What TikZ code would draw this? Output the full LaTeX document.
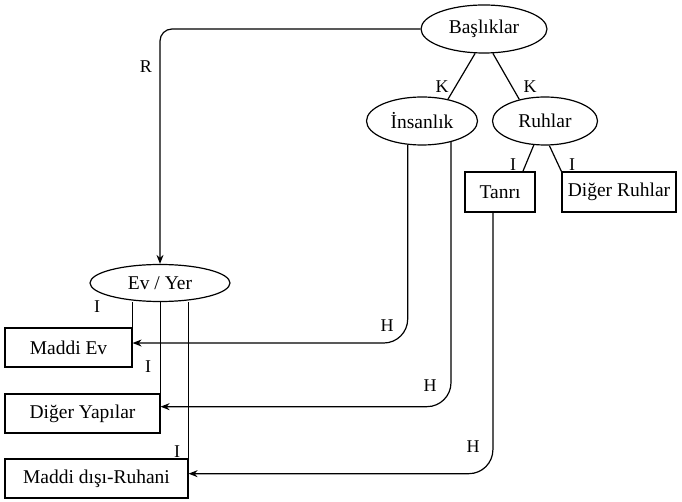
\documentclass[tikz,border=0pt]{standalone}
\usepackage{fontspec}
\setmainfont{Liberation Serif}
\usetikzlibrary{arrows.meta,shapes.geometric}
\begin{document}
\begin{tikzpicture}[x=1pt,y=-1pt,
  every node/.style={font=\fontsize{19.5}{22}\selectfont},
  ell/.style={draw,ellipse,line width=1.2pt,inner sep=0pt},
  box/.style={draw,rectangle,line width=1.2pt,inner sep=0pt},
  lab/.style={font=\fontsize{18}{20}\selectfont,inner sep=0pt},
  conn/.style={line width=1.2pt},
  arr/.style={line width=1.2pt,-{Stealth[length=9pt,width=7pt]},rounded corners=24pt}]
\useasboundingbox (0,0) rectangle (682,502);
% nodes
\node[ell,minimum width=126,minimum height=48] (bas) at (484,29) {Başlıklar};
\node[ell,minimum width=111,minimum height=48] (ins) at (422,121) {İnsanlık};
\node[ell,minimum width=105,minimum height=48] (ruh) at (545,121) {Ruhlar};
\node[box,minimum width=70,minimum height=40] (tanri) at (500,192) {Tanrı};
\node[box,minimum width=114,minimum height=40] (diger) at (619,192) {Diğer Ruhlar};
\node[ell,minimum width=140,minimum height=37] (ev) at (160,283) {Ev / Yer};
\node[box,minimum width=127,minimum height=39] (maddi) at (68.5,347.5) {Maddi Ev};
\node[box,minimum width=155,minimum height=39] (dy) at (82.5,413.5) {Diğer Yapılar};
\node[box,minimum width=183,minimum height=39] (mdr) at (96.5,478.5) {Maddi dışı-Ruhani};
% connectors
\draw[line width=1.2pt,-{Stealth[length=9pt,width=7pt]},rounded corners=12pt] (bas.west) -| (ev.north);
\draw[conn] (bas.250) -- (ins.40);
\draw[conn] (bas.290) -- (ruh.140);
\draw[conn] (ruh.245) -- (tanri.42);
\draw[conn] (ruh.280) -- (diger.north west);
\draw[conn] (maddi.north east |- ev.south) -- (maddi.north east);
\draw[conn] (dy.north east |- ev.south) -- (dy.north east);
\draw[conn] (mdr.north east |- ev.south) -- (mdr.north east);
\draw[arr] (ins.239) |- (maddi.4);
\draw[arr] (ins.324) |- (dy.5);
\draw[arr] (tanri.251) |- (mdr.3);
% labels
\node[lab] (lR) at (146,67) {R};
\node[lab] (lK1) at (442,87) {K};
\node[lab] (lK2) at (530,87) {K};
\node[lab] (lI1) at (513,165) {I};
\node[lab] (lI2) at (572,165) {I};
\node[lab] (lI3) at (97,307) {I};
\node[lab] (lI4) at (148,367) {I};
\node[lab] (lI5) at (177,452) {I};
\node[lab] (lH1) at (387,326) {H};
\node[lab] (lH2) at (430,386) {H};
\node[lab] (lH3) at (473,447) {H};
\end{tikzpicture}
\end{document}
